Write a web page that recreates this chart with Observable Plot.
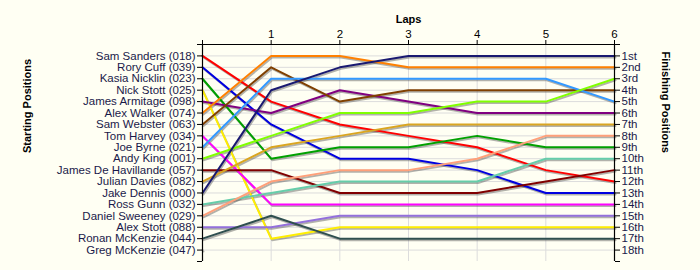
<!DOCTYPE html>
<html><head><meta charset="utf-8">
<script src="https://cdn.jsdelivr.net/npm/d3@7"></script>
<script src="https://cdn.jsdelivr.net/npm/@observablehq/plot@0.6"></script>
<style>
body{margin:0;background:#fffff3;}
#chart svg{display:block;}
</style>
</head><body><div id="chart"></div>
<script>
const drivers = [
  "Sam Sanders (018)", "Rory Cuff (039)", "Kasia Nicklin (023)", "Nick Stott (025)",
  "James Armitage (098)", "Alex Walker (074)", "Sam Webster (063)", "Tom Harvey (034)",
  "Joe Byrne (021)", "Andy King (001)", "James De Havillande (057)", "Julian Davies (082)",
  "Jake Dennis (000)", "Ross Gunn (032)", "Daniel Sweeney (029)", "Alex Stott (088)",
  "Ronan McKenzie (044)", "Greg McKenzie (047)"
];
const colors = [
  "#ff0000", "#0000e0", "#00a000", "#ffee00",
  "#800080", "#ff8000", "#804000", "#ff00ff",
  "#3399ff", "#80ff00", "#800000", "#daa520",
  "#191970", "#66cdaa", "#ffa07a", "#9370db",
  "#2f4f4f", "#999999"
];
const lapTicks = [1, 2, 3, 4, 5, 6];
// position of each driver at lap 0 (start) through lap 6 (finish)
const positions = [
  [1, 5, 7, 8, 9, 11, 12],
  [2, 7, 10, 10, 11, 13, 13],
  [3, 10, 9, 9, 8, 9, 9],
  [4, 17, 16, 16, 16, 16, 16],
  [5, 6, 4, 5, 6, 6, 6],
  [6, 1, 1, 2, 2, 2, 2],
  [7, 2, 5, 4, 4, 4, 4],
  [8, 14, 14, 14, 14, 14, 14],
  [9, 3, 3, 3, 3, 3, 5],
  [10, 8, 6, 6, 5, 5, 3],
  [11, 11, 13, 13, 13, 12, 11],
  [12, 9, 8, 7, 7, 7, 7],
  [13, 4, 2, 1, 1, 1, 1],
  [14, 13, 12, 12, 12, 10, 10],
  [15, 12, 11, 11, 10, 8, 8],
  [16, 16, 15, 15, 15, 15, 15],
  [17, 15, 17, 17, 17, 17, 17],
  [18, null, null, null, null, null, null]
];
const finishLabels = ["1st","2nd","3rd","4th","5th","6th","7th","8th","9th","10th",
  "11th","12th","13th","14th","15th","16th","17th","18th"];

const rows = [];
drivers.forEach((name, i) => positions[i].forEach((p, lap) => rows.push({name, lap, pos: p})));

const textColor = "#1a1a4a";
const allTicks = d3.range(0, 20);

const chart = Plot.plot({
  width: 700,
  height: 270,
  marginLeft: 202,
  marginRight: 86,
  marginTop: 44,
  marginBottom: 9,
  style: {background: "#fffff3", fontFamily: "Liberation Sans, Arial, sans-serif", fontSize: "11.5px", overflow: "visible"},
  x: {domain: [0, 6]},
  y: {domain: [0, 19], reverse: true},
  color: {domain: drivers, range: colors},
  marks: [
    Plot.gridX({ticks: lapTicks, stroke: "#dcdcdc", strokeOpacity: 1}),
    Plot.gridY({ticks: d3.range(1, 19), stroke: "#dcdcdc", strokeOpacity: 1}),
    Plot.line(rows, {x: "lap", y: "pos", z: "name", stroke: "#555", strokeOpacity: 0.45, strokeWidth: 2, dx: 1, dy: 1.5}),
    Plot.line(rows, {x: "lap", y: "pos", z: "name", stroke: "name", strokeWidth: 2}),
    Plot.ruleY([0], {stroke: "#000", strokeWidth: 1.2}),
    Plot.ruleX([0, 6], {stroke: "#000", strokeWidth: 1.2}),
    Plot.axisX({anchor: "top", ticks: d3.range(0, 7), tickFormat: d => d === 0 ? "" : d, tickSize: 5, tickPadding: 2, label: null, fill: "#000", stroke: "#000"}),
    Plot.axisY({anchor: "left", ticks: allTicks, tickFormat: d => drivers[d - 1] ?? "", tickSize: 5, tickPadding: 2, label: null, fill: textColor, stroke: "#000"}),
    Plot.axisY({anchor: "right", ticks: allTicks, tickFormat: d => finishLabels[d - 1] ?? "", tickSize: 5, tickPadding: 2, label: null, fill: textColor, stroke: "#000"}),
    Plot.text(["Laps"], {frameAnchor: "top", dy: -29, fontWeight: "bold", fill: "#000", fontSize: 11}),
    Plot.text(["Starting Positions"], {frameAnchor: "left", dx: -175, rotate: -90, fontWeight: "bold", fill: "#000", fontSize: 11}),
    Plot.text(["Finishing Positions"], {frameAnchor: "right", dx: 51, rotate: 90, fontWeight: "bold", fill: "#000", fontSize: 11})
  ]
});
document.getElementById("chart").appendChild(chart);
</script>
</body></html>
